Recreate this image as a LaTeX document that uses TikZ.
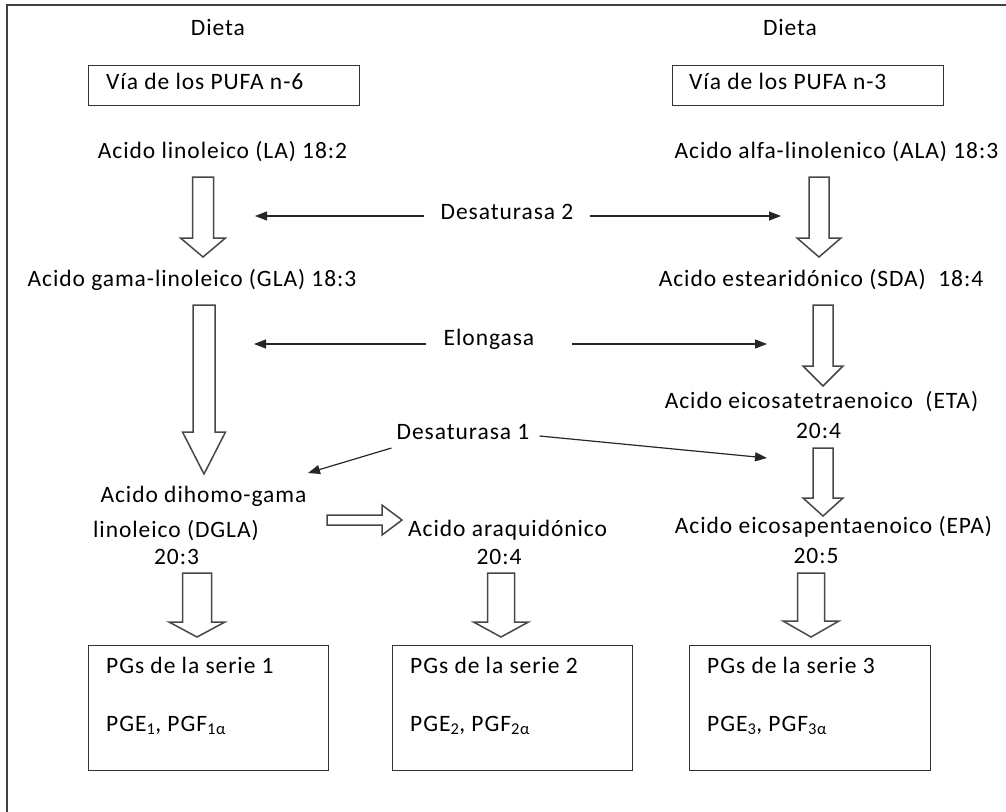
\documentclass[tikz,border=0pt]{standalone}
\usepackage{fontspec}
\setmainfont{Carlito}[LetterSpace=4]
\usetikzlibrary{arrows.meta,calc}

% vertical hollow block arrow: #1 top of shaft, #2 tip, #3 half shaft width,
% #4 half head width, #5 head length
\newcommand\fatarrow[5]{%
  \draw[hollowarrow] let \p1=(#1), \p2=(#2) in
    (\x1-#3pt,\y1) -- (\x1+#3pt,\y1) -- (\x1+#3pt,\y2+#5pt) -- (\x1+#4pt,\y2+#5pt)
    -- (\x2,\y2) -- (\x1-#4pt,\y2+#5pt) -- (\x1-#3pt,\y2+#5pt) -- cycle;}
% horizontal hollow block arrow pointing right, same arguments
\newcommand\hfatarrow[5]{%
  \draw[hollowarrow] let \p1=(#1), \p2=(#2) in
    (\x1,\y1+#3pt) -- (\x2-#5pt,\y1+#3pt) -- (\x2-#5pt,\y1+#4pt) -- (\x2,\y2)
    -- (\x2-#5pt,\y1-#4pt) -- (\x2-#5pt,\y1-#3pt) -- (\x1,\y1-#3pt) -- cycle;}

\begin{document}
\begin{tikzpicture}[x=1pt,y=-1pt,
  txt/.style={inner sep=0pt,font=\fontsize{23.5pt}{27pt}\selectfont,
    text height=0.6em,text depth=0pt},
  framebox/.style={draw=black!80,line width=1.4pt},
  hollowarrow/.style={draw=black!72,line width=1.5pt,fill=white,line join=miter},
  enzarrow/.style={draw=black!85,line width=1.2pt,
    -{Triangle[length=12pt,width=9pt]}}]

\useasboundingbox (0,0) rectangle (1006,811);
% outer frame, running past the right and bottom edges
\draw[draw=black!75,line width=2pt] (7,5) rectangle (1030,840);

% headings
\node[txt] (dietaL) at (218,32) {Dieta};
\node[txt] (dietaR) at (790,32) {Dieta};
\node[framebox,anchor=north west,minimum width=271pt,minimum height=40pt] (pufa6) at (88,65) {};
\node[framebox,anchor=north west,minimum width=271pt,minimum height=40pt] (pufa3) at (672,65) {};
\node[txt,anchor=west] (pufa6t) at (106,86) {Vía de los PUFA n-6};
\node[txt,anchor=west] (pufa3t) at (689,86) {Vía de los PUFA n-3};

% n-6 pathway
\node[txt] (la) at (222.5,155) {Acido linoleico (LA) 18:2};
\node[txt] (gla) at (192,283) {Acido gama-linoleico (GLA) 18:3};
\node[txt] (dgla1) at (203.5,499) {Acido dihomo-gama};
\node[txt] (dgla2) at (176,534) {linoleico (DGLA)};
\node[txt] (dgla3) at (176.5,561) {20:3};
\node[txt,anchor=west] (aa) at (408,533) {Acido araquidónico};
\node[txt] (aa2) at (499,561) {20:4};

% n-3 pathway
\node[txt] (ala) at (836.5,155) {Acido alfa-linolenico (ALA) 18:3};
\node[txt] (sda) at (821,283) {Acido estearidónico (SDA)\ \ 18:4};
\node[txt] (eta) at (821.5,405) {Acido eicosatetraenoico\ \ (ETA)};
\node[txt] (eta2) at (818.5,435) {20:4};
\node[txt] (epa) at (833.5,530) {Acido eicosapentaenoico (EPA)};
\node[txt] (epa2) at (816,560) {20:5};

% enzymes
\node[txt,inner xsep=16pt] (des2) at (507,216) {Desaturasa 2};
\node[txt,inner xsep=18pt] (elo) at (489,342) {Elongasa};
\node[txt] (des1) at (463,436) {Desaturasa 1};

% prostaglandin series
\node[framebox,anchor=north west,minimum width=240pt,minimum height=125pt] (pg1) at (88,645) {};
\node[framebox,anchor=north west,minimum width=240pt,minimum height=125pt] (pg2) at (392,645) {};
\node[framebox,anchor=north west,minimum width=241pt,minimum height=125pt] (pg3) at (689,645) {};
\node[txt,anchor=west] (pg1a) at (106,670) {PGs de la serie 1};
\node[txt,anchor=west] (pg1b) at (106,728) {PGE\textsubscript{1}, PGF\textsubscript{1α}};
\node[txt,anchor=west] (pg2a) at (410,670) {PGs de la serie 2};
\node[txt,anchor=west] (pg2b) at (410,728) {PGE\textsubscript{2}, PGF\textsubscript{2α}};
\node[txt,anchor=west] (pg3a) at (707,670) {PGs de la serie 3};
\node[txt,anchor=west] (pg3b) at (707,728) {PGE\textsubscript{3}, PGF\textsubscript{3α}};

% shaft tops and tips of the block arrows
\coordinate (a1s) at (203,177);  \coordinate (a1t) at (203,257);
\coordinate (a2s) at (819,177);  \coordinate (a2t) at (819,257);
\coordinate (a3s) at (204,305);  \coordinate (a3t) at (204,474);
\coordinate (a4s) at (823,305);  \coordinate (a4t) at (823,386);
\coordinate (a5s) at (823,448);  \coordinate (a5t) at (823,516);
\coordinate (a6s) at (197,573);  \coordinate (a6t) at (197,637);
\coordinate (a7s) at (501,573);  \coordinate (a7t) at (501,637);
\coordinate (a8s) at (811,573);  \coordinate (a8t) at (811,637);
\coordinate (ahs) at (327,520);  \coordinate (aht) at (402,520);

\fatarrow{a1s}{a1t}{10.5}{22.5}{19}
\fatarrow{a2s}{a2t}{10}{22}{19}
\fatarrow{a3s}{a3t}{11}{21.5}{42}
\fatarrow{a4s}{a4t}{10}{20}{20}
\fatarrow{a5s}{a5t}{10}{20}{18}
\fatarrow{a6s}{a6t}{14.5}{28}{15}
\fatarrow{a7s}{a7t}{13.5}{27.5}{15}
\fatarrow{a8s}{a8t}{13.5}{28}{16}
\hfatarrow{ahs}{aht}{5}{15}{20}

% enzyme arrows
\coordinate (des2L) at (255,216);
\coordinate (des2R) at (781,216);
\coordinate (eloL) at (254,344);
\coordinate (eloR) at (767,344);
\coordinate (des1L) at (308,473);
\coordinate (des1R) at (767,458);
\draw[enzarrow] (des2.west) -- (des2L);
\draw[enzarrow] (des2.east) -- (des2R);
\draw[enzarrow] (elo.west |- eloL) -- (eloL);
\draw[enzarrow] ([xshift=20pt]elo.east |- eloR) -- (eloR);
\draw[enzarrow] ([xshift=-5pt,yshift=-12pt]des1.west) -- (des1L);
\draw[enzarrow] ([xshift=10pt]des1.east) -- (des1R);
\end{tikzpicture}
\end{document}
